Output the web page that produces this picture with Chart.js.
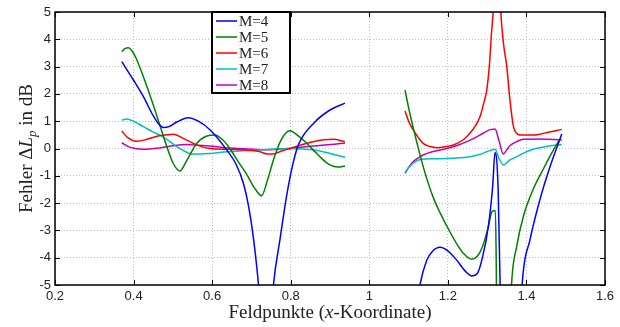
<!DOCTYPE html>
<html>
<head>
<meta charset="utf-8">
<script src="https://cdn.jsdelivr.net/npm/chart.js@4.4.0/dist/chart.umd.min.js"></script>
<style>
  body { margin: 0; background: #fff; }
  #wrap { width: 620px; height: 327px; position: relative; }
</style>
</head>
<body>
<div id="wrap"><canvas id="chart"></canvas></div>
<script>
// ---------- DATA ----------
const seriesLabels = ["M=4", "M=5", "M=6", "M=7", "M=8"];
const seriesColors = ["#0000ff", "#008000", "#ff0000", "#00bfbf", "#bf00bf"];

// null at x=1.0 splits the left and right groups of field points
const m4X = [0.37, 0.40, 0.425, 0.45, 0.465, 0.476, 0.49, 0.51, 0.539, 0.565, 0.595, 0.637, 0.66, 0.68, 0.695, 0.707, 0.718, 0.728, 0.737, 0.746, 0.756, 0.773, 0.79, 0.805, 0.82, 0.858, 0.90, 0.938,
  1.0,
  1.10, 1.115, 1.129, 1.146, 1.16, 1.18, 1.20, 1.222, 1.245, 1.261, 1.275, 1.288, 1.303, 1.314, 1.32, 1.328, 1.333, 1.34, 1.36, 1.38, 1.389, 1.409, 1.434, 1.46, 1.49];
const m4Y = [3.18, 2.5, 1.9, 1.2, 0.88, 0.77, 0.8, 0.97, 1.13, 1.0, 0.68, -0.05, -0.55, -1.3, -2.3, -3.5, -5.0, -7, -8, -7, -5, -3.3, -1.7, -0.6, 0.15, 0.92, 1.41, 1.66,
  null,
  -8, -6.5, -5, -4.1, -3.78, -3.62, -3.75, -4.08, -4.5, -4.67, -4.58, -4.0, -2.86, -1.40, -0.15, -1.5, -5, -8, -10, -8, -5, -3.35, -1.89, -0.67, 0.53];

const m5X = [0.37, 0.378, 0.387, 0.395, 0.405, 0.425, 0.45, 0.467, 0.484, 0.501, 0.518, 0.535, 0.561, 0.585, 0.607, 0.628, 0.645, 0.665, 0.688, 0.708, 0.726, 0.74, 0.756, 0.775, 0.798, 0.82, 0.84, 0.857, 0.88, 0.90, 0.92, 0.938,
  1.0,
  1.091, 1.10, 1.112, 1.125, 1.14, 1.163, 1.18, 1.205, 1.225, 1.24, 1.261, 1.275, 1.288, 1.303, 1.311, 1.316, 1.321, 1.323, 1.325, 1.34, 1.357, 1.362, 1.375, 1.392, 1.417, 1.443, 1.465, 1.485];
const m5Y = [3.55, 3.66, 3.69, 3.6, 3.35, 2.63, 1.6, 0.85, 0.1, -0.55, -0.82, -0.45, 0.19, 0.45, 0.49, 0.30, 0.0, -0.45, -0.95, -1.45, -1.73, -1.2, -0.42, 0.30, 0.65, 0.45, 0.20, -0.05, -0.38, -0.6, -0.68, -0.64,
  null,
  2.14, 1.5, 0.75, 0.0, -0.8, -1.8, -2.35, -3.05, -3.55, -3.85, -4.06, -3.95, -3.6, -2.86, -2.35, -2.28, -2.28, -4, -7, -12, -7, -5, -3.6, -2.5, -1.5, -0.75, -0.15, 0.34];

const m6X = [0.37, 0.385, 0.408, 0.43, 0.46, 0.485, 0.501, 0.525, 0.552, 0.575, 0.595, 0.645, 0.70, 0.722, 0.74, 0.756, 0.775, 0.798, 0.83, 0.857, 0.885, 0.908, 0.938,
  1.0,
  1.091, 1.10, 1.112, 1.125, 1.137, 1.155, 1.172, 1.195, 1.214, 1.24, 1.256, 1.27, 1.282, 1.292, 1.299, 1.306, 1.311, 1.316, 1.325, 1.334, 1.342, 1.35, 1.358, 1.367, 1.376, 1.384, 1.418, 1.451, 1.49];
const m6Y = [0.64, 0.40, 0.27, 0.32, 0.45, 0.50, 0.52, 0.38, 0.19, 0.06, 0.0, -0.03, -0.07, -0.12, -0.2, -0.2, -0.1, 0.0, 0.15, 0.25, 0.32, 0.34, 0.25,
  null,
  1.37, 1.0, 0.68, 0.40, 0.19, 0.07, 0.03, 0.07, 0.13, 0.33, 0.56, 0.83, 1.17, 1.7, 2.14, 3.1, 4.22, 5.2, 9, 5.2, 3.8, 3.0, 1.78, 0.80, 0.55, 0.49, 0.49, 0.58, 0.70];

const m7X = [0.37, 0.382, 0.40, 0.425, 0.45, 0.467, 0.49, 0.51, 0.53, 0.548, 0.57, 0.595, 0.63, 0.671, 0.73, 0.79, 0.83, 0.857, 0.90, 0.938,
  1.0,
  1.091, 1.10, 1.112, 1.125, 1.15, 1.197, 1.23, 1.256, 1.28, 1.299, 1.31, 1.32, 1.33, 1.341, 1.358, 1.375, 1.395, 1.417, 1.45, 1.49];
const m7Y = [1.04, 1.08, 1.0, 0.80, 0.60, 0.49, 0.28, 0.07, -0.10, -0.2, -0.2, -0.18, -0.13, -0.09, -0.05, 0.0, -0.02, -0.05, -0.18, -0.32,
  null,
  -0.88, -0.7, -0.54, -0.42, -0.38, -0.37, -0.34, -0.3, -0.22, -0.12, -0.06, -0.03, -0.35, -0.6, -0.42, -0.3, -0.15, -0.03, 0.07, 0.15];

const m8X = [0.37, 0.39, 0.425, 0.47, 0.50, 0.535, 0.565, 0.595, 0.63, 0.671, 0.73, 0.798, 0.857, 0.938,
  1.0,
  1.091, 1.10, 1.112, 1.125, 1.137, 1.16, 1.197, 1.225, 1.248, 1.27, 1.29, 1.31, 1.32, 1.33, 1.341, 1.35, 1.358, 1.375, 1.392, 1.434, 1.49];
const m8Y = [0.21, 0.05, -0.03, 0.03, 0.10, 0.15, 0.12, 0.09, 0.03, 0.0, -0.05, 0.0, 0.09, 0.19,
  null,
  -0.91, -0.7, -0.48, -0.34, -0.24, -0.12, 0.0, 0.12, 0.25, 0.40, 0.56, 0.70, 0.71, 0.30, -0.2, -0.05, 0.10, 0.25, 0.34, 0.35, 0.31];

const xTickLabels = ["0.2", "0.4", "0.6", "0.8", "1", "1.2", "1.4", "1.6"];
const yTickLabels = ["-5", "-4", "-3", "-2", "-1", "0", "1", "2", "3", "4", "5"];
const xTitleParts = [["Feldpunkte (", false], ["x", true], ["-Koordinate)", false]];
const yTitleParts = [["Fehler \u0394", false, false], ["L", true, false], ["p", true, true], [" in dB", false, false]];

const seriesX = [m4X, m5X, m6X, m7X, m8X];
const seriesY = [m4Y, m5Y, m6Y, m7Y, m8Y];

const SERIF = "'Liberation Serif', serif";
const SANS = "'Liberation Sans', Arial, sans-serif";

// ---------- DECORATION PLUGIN ----------
const matlabLook = {
  id: "matlabLook",
  afterDraw(chart) {
    const ctx = chart.ctx;
    const a = chart.chartArea;
    const xs = chart.scales.x, ys = chart.scales.y;

    ctx.save();
    // inward ticks
    ctx.strokeStyle = "#000";
    ctx.lineWidth = 1;
    ctx.beginPath();
    xs.ticks.forEach(t => {
      const px = Math.round(xs.getPixelForValue(t.value)) + 0.5;
      ctx.moveTo(px, a.bottom); ctx.lineTo(px, a.bottom - 5);
      ctx.moveTo(px, a.top); ctx.lineTo(px, a.top + 5);
    });
    ys.ticks.forEach(t => {
      const py = Math.round(ys.getPixelForValue(t.value)) + 0.5;
      ctx.moveTo(a.left, py); ctx.lineTo(a.left + 5, py);
      ctx.moveTo(a.right, py); ctx.lineTo(a.right - 5, py);
    });
    ctx.stroke();

    // frame
    ctx.lineWidth = 1.5;
    ctx.strokeRect(a.left, a.top, a.right - a.left, a.bottom - a.top);

    // legend
    const lx = 212, ly = a.top, lw = 78, lh = 81;
    ctx.fillStyle = "#fff";
    ctx.fillRect(lx, ly, lw, lh);
    ctx.lineWidth = 2;
    ctx.strokeStyle = "#000";
    ctx.strokeRect(lx, ly, lw, lh);
    ctx.font = "15px " + SERIF;
    ctx.textBaseline = "middle";
    ctx.textAlign = "left";
    chart.data.datasets.forEach((ds, i) => {
      const cy = ly + 9 + i * 16;
      ctx.strokeStyle = ds.borderColor;
      ctx.lineWidth = 1.5;
      ctx.beginPath();
      ctx.moveTo(lx + 4, cy); ctx.lineTo(lx + 25, cy);
      ctx.stroke();
      ctx.fillStyle = "#222";
      ctx.fillText(ds.label, lx + 27, cy + 1);
    });

    // x title
    ctx.fillStyle = "#222";
    ctx.textBaseline = "alphabetic";
    const fx = it => (it ? "italic " : "") + "19px " + SERIF;
    let total = 0;
    xTitleParts.forEach(([s, it]) => { ctx.font = fx(it); total += ctx.measureText(s).width; });
    let x = (a.left + a.right) / 2 - total / 2;
    xTitleParts.forEach(([s, it]) => {
      ctx.font = fx(it);
      ctx.fillText(s, x, 318);
      x += ctx.measureText(s).width;
    });

    // y title (rotated)
    const fy = (it, sub) => (it ? "italic " : "") + (sub ? "13px " : "19px ") + SERIF;
    ctx.translate(32, (a.top + a.bottom) / 2);
    ctx.rotate(-Math.PI / 2);
    total = 0;
    yTitleParts.forEach(([s, it, sub]) => { ctx.font = fy(it, sub); total += ctx.measureText(s).width; });
    x = -total / 2;
    yTitleParts.forEach(([s, it, sub]) => {
      ctx.font = fy(it, sub);
      ctx.fillText(s, x, sub ? 4 : 0);
      x += ctx.measureText(s).width;
    });
    ctx.restore();
  }
};

// ---------- CHART ----------
const datasets = seriesLabels.map((label, i) => ({
  label,
  data: seriesX[i].map((x, j) => ({ x, y: seriesY[i][j] })),
  borderColor: seriesColors[i],
  backgroundColor: seriesColors[i],
  borderWidth: 1.5,
  pointRadius: 0,
  fill: false,
  cubicInterpolationMode: "monotone",
  spanGaps: false
}));

new Chart(document.getElementById("chart"), {
  type: "line",
  data: { datasets },
  options: {
    responsive: true,
    maintainAspectRatio: false,
    animation: false,
    layout: { padding: { top: 12, right: 15, left: 0, bottom: 0 } },
    plugins: { legend: { display: false }, tooltip: { enabled: false } },
    scales: {
      x: {
        type: "linear",
        min: 0.2,
        max: 1.6,
        afterFit: s => { s.height = 42; },
        ticks: {
          stepSize: 0.2,
          padding: 4,
          maxRotation: 0,
          autoSkip: false,
          color: "#222",
          font: { family: SANS, size: 13 },
          callback: v => xTickLabels[Math.round((v - 0.2) / 0.2)]
        },
        grid: { color: "#bdbdbd", lineWidth: 1, drawTicks: false },
        border: { display: false, dash: [1, 2] }
      },
      y: {
        min: -5,
        max: 5,
        afterFit: s => { s.width = 55; },
        ticks: {
          stepSize: 1,
          padding: 4,
          color: "#222",
          font: { family: SANS, size: 13 },
          callback: v => yTickLabels[Math.round(v + 5)]
        },
        grid: { color: "#bdbdbd", lineWidth: 1, drawTicks: false },
        border: { display: false, dash: [1, 2] }
      }
    }
  },
  plugins: [matlabLook]
});
</script>
</body>
</html>
